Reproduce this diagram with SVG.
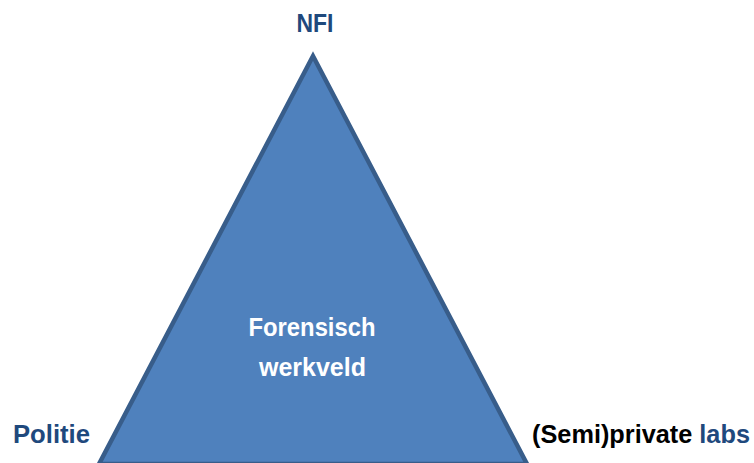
<svg xmlns="http://www.w3.org/2000/svg" width="754" height="463" viewBox="0 0 754 463">
<style>
.lbl{font-family:"Liberation Sans",Arial,sans-serif;font-weight:bold;font-size:25px}
.blue{fill:#1f497d}
.black{fill:#000}
.white{fill:#fff}
</style>
<rect width="754" height="463" fill="#fff"/>
<g id="triangle">
<polygon points="313,56 99,464 527,464" fill="#4f81bd" stroke="#385d8a" stroke-width="4.5" stroke-linejoin="miter"/>
<text class="lbl white" x="312" y="336" text-anchor="middle" textLength="127" lengthAdjust="spacingAndGlyphs">Forensisch</text>
<text class="lbl white" x="312.5" y="376" text-anchor="middle">werkveld</text>
</g>
<g id="nfi">
<text class="lbl blue" x="315" y="32" text-anchor="middle" textLength="37" lengthAdjust="spacingAndGlyphs">NFI</text>
</g>
<g id="politie">
<text class="lbl blue" x="13" y="443" textLength="77" lengthAdjust="spacingAndGlyphs">Politie</text>
</g>
<g id="labs">
<text class="lbl black" x="532" y="443" textLength="218" lengthAdjust="spacingAndGlyphs">(Semi)private <tspan class="blue">labs</tspan></text>
</g>
<g id="connectors"></g>
</svg>
